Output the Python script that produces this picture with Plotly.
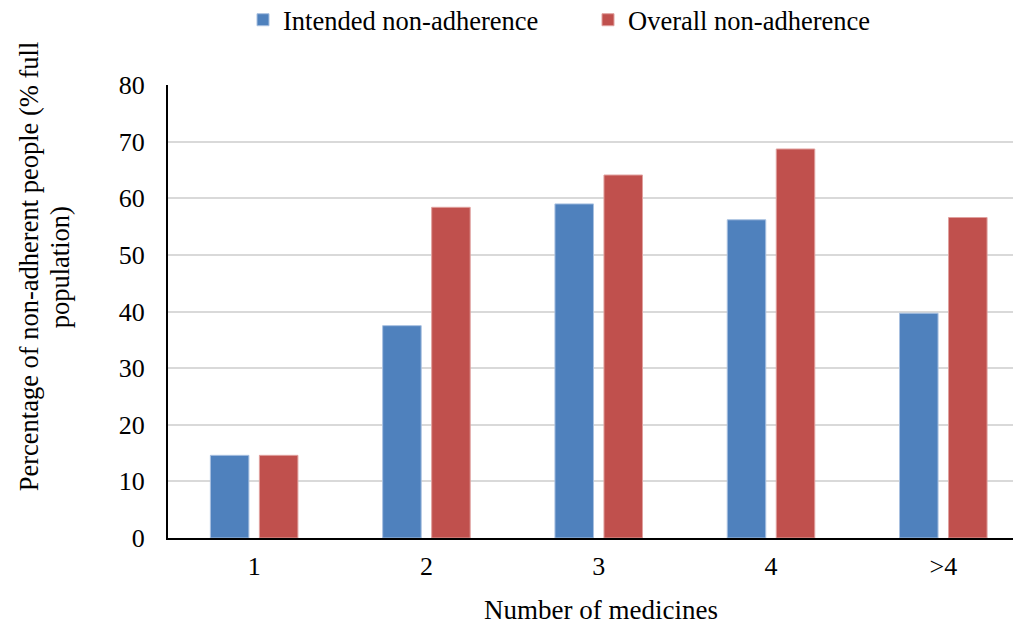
import plotly.graph_objects as go

categories = ["1", "2", "3", "4", ">4"]
intended = [14.6, 37.5, 59.0, 56.2, 39.7]
overall = [14.6, 58.4, 64.1, 68.7, 56.6]

y_title_lines = ["Percentage of non-adherent people (% full", "population)"]
x_title = "Number of medicines"

FONT = "Liberation Serif"

# page has an 8px body margin; figure size and positions compensate for it
W, H = 1013, 615
L, T, B = 160, 76.5, 85
PW = W - L
PH = H - T - B

fig = go.Figure()
fig.add_trace(go.Bar(x=categories, y=intended, name="Intended non-adherence",
                     marker=dict(color="#4f81bd", line=dict(color="#a8c0e0", width=1))))
fig.add_trace(go.Bar(x=categories, y=overall, name="Overall non-adherence",
                     marker=dict(color="#c0504d", line=dict(color="#e0a09e", width=1))))

fig.update_layout(
    width=W, height=H,
    margin=dict(l=L, r=0, t=T, b=B, pad=0, autoexpand=False),
    paper_bgcolor="white", plot_bgcolor="white",
    font=dict(family=FONT, size=26, color="black"),
    barmode="group", bargap=0.431, bargroupgap=0.214,
    legend=dict(orientation="h", x=235 / W, xref="container", xanchor="left",
                y=1 - 12 / H, yref="container", yanchor="middle", valign="middle",
                entrywidth=300, entrywidthmode="pixels",
                font=dict(family=FONT, size=26.5), traceorder="normal"),
    xaxis=dict(range=[-0.5, 4.451], showline=True, linecolor="black", linewidth=2,
               ticks="", ticklabelstandoff=4, tickfont=dict(family=FONT, size=26),
               automargin=False),
    yaxis=dict(range=[0, 80], dtick=10, showline=True, linecolor="black", linewidth=2,
               showgrid=True, gridcolor="#d9d9d9", gridwidth=2, zeroline=False,
               ticks="", ticklabelstandoff=16, tickfont=dict(family=FONT, size=26),
               automargin=False),
    annotations=[
        dict(text=x_title, xref="paper", yref="paper",
             x=(593 - L) / PW, y=(H - B - 602) / PH, xanchor="center", yanchor="middle",
             showarrow=False, font=dict(family=FONT, size=27)),
        dict(text=y_title_lines[0],
             xref="paper", yref="paper", textangle=-90,
             x=(21 - L) / PW, y=(H - B - 258) / PH, xanchor="center", yanchor="middle",
             showarrow=False, font=dict(family=FONT, size=26.5)),
        dict(text=y_title_lines[1],
             xref="paper", yref="paper", textangle=-90,
             x=(52 - L) / PW, y=(H - B - 259) / PH, xanchor="center", yanchor="middle",
             showarrow=False, font=dict(family=FONT, size=26.5)),
    ],
)

fig.write_html("out.html")
